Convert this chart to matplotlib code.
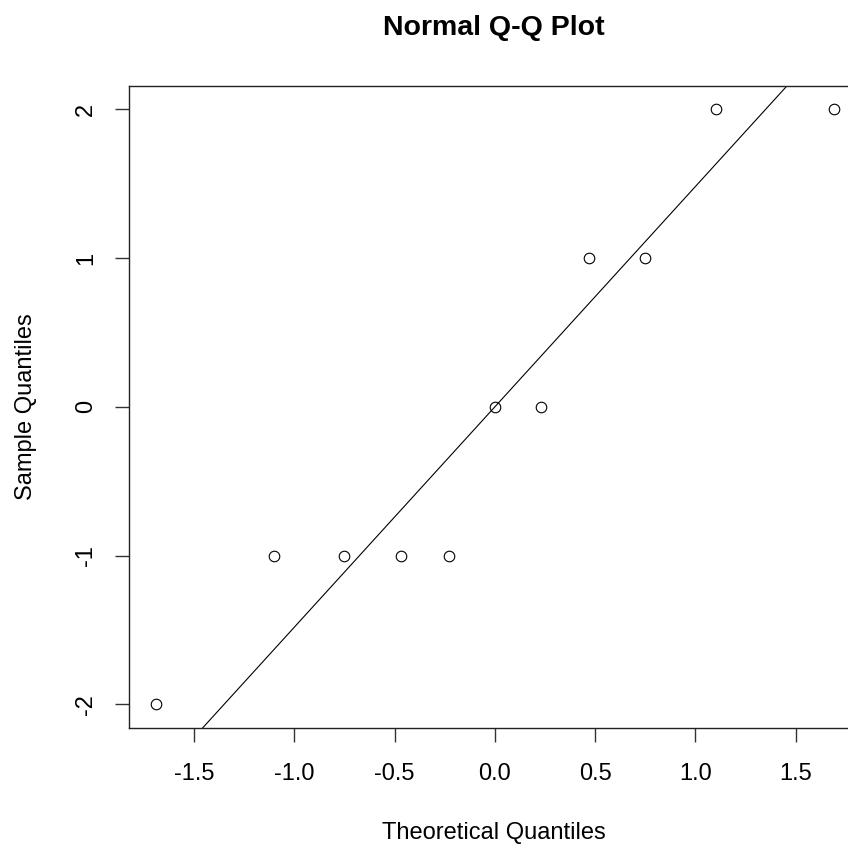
import matplotlib
matplotlib.use("Agg")
import matplotlib.pyplot as plt

# theoretical vs sample quantiles
theoretical = [-1.69, -1.10, -0.75, -0.47, -0.23, 0.0, 0.23, 0.47, 0.75, 1.10, 1.69]
sample = [-2, -1, -1, -1, -1, 0, 0, 1, 1, 2, 2]
# reference line through the quartiles
line_intercept = 0.0
line_slope = 1.4826

xticks = [-1.5, -1.0, -0.5, 0.0, 0.5, 1.0, 1.5]
yticks = [-2, -1, 0, 1, 2]

plt.rcParams['font.family'] = ['Liberation Sans', 'DejaVu Sans']

fig = plt.figure(figsize=(8.48, 8.47), dpi=100)
ax = fig.add_axes([128.7/848, (847-728)/847, (861-128.7)/848, (728-85.7)/847])

ax.plot(theoretical, sample, linestyle="none", marker="o", markersize=7.6,
        markerfacecolor="none", markeredgecolor="black", markeredgewidth=0.8)
ax.axline((0, line_intercept), slope=line_slope, color="black", linewidth=0.8)

ax.set_xlim(-1.825, 1.825)
ax.set_ylim(-2.16, 2.16)

ax.set_xticks(xticks)
ax.set_xticklabels(["%.1f" % v for v in xticks])
ax.set_yticks(yticks)
ax.set_yticklabels([str(v) for v in yticks], rotation=90, va="center")

ax.tick_params(axis="both", length=10, width=1.0, labelsize=17, color="#333333")
ax.tick_params(axis="x", pad=15.5)
ax.tick_params(axis="y", pad=13)
for s in ax.spines.values():
  s.set_linewidth(1.0)
  s.set_color("#222222")

fig.text(494/848, 1 - 28/847, "Normal Q-Q Plot", ha="center", va="center",
         fontsize=20.5, fontweight="bold")
fig.text(494/848, 1 - 833/847, "Theoretical Quantiles", ha="center", va="center", fontsize=17)
fig.text(26/848, 1 - 407/847, "Sample Quantiles", ha="center", va="center",
         rotation=90, fontsize=17)

plt.savefig("out.png", dpi=100)
